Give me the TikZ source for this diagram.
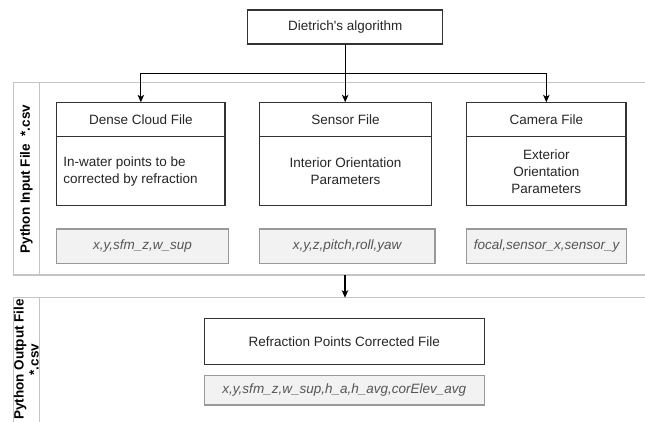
\documentclass[tikz,border=0pt]{standalone}
\usepackage{fontspec}
\setmainfont{Liberation Sans}[Ligatures=TeXOff]
\usetikzlibrary{arrows.meta}
\definecolor{boxline}{HTML}{333333}
\definecolor{laneline}{HTML}{C4C4C4}
\definecolor{grayfill}{HTML}{F2F2F2}
\definecolor{grayline}{HTML}{999999}
\definecolor{graytext}{HTML}{555555}
\begin{document}
\begin{tikzpicture}[x=1pt,y=-1pt,
  every node/.style={font=\fontsize{13.5}{17}\selectfont, inner sep=0pt, outer sep=0pt},
  plainbox/.style={draw=boxline, line width=1.1pt, fill=white, align=center, text=black!85},
  filebox/.style={draw=boxline, line width=1.1pt, fill=white},
  attrbox/.style={draw=grayline, line width=1.1pt, fill=grayfill, text=graytext, font=\fontsize{13.5}{17}\selectfont\itshape},
  lane/.style={draw=laneline, line width=1.4pt},
  lanelabel/.style={rotate=90, font=\fontsize{13.5}{15}\selectfont\bfseries, align=center},
  conn/.style={line width=1.1pt, draw=black, -{Stealth[length=7.5pt,width=6.5pt,inset=2pt]}}
]
\clip (0,0) rectangle (645,422);
\fill[white] (0,0) rectangle (645,422);

% lanes
\draw[lane] (680,82.7) -- (13.3,82.7) -- (13.3,275) -- (680,275);
\draw[lane] (39.3,82.7) -- (39.3,275);
\draw[lane] (680,297.7) -- (13.3,297.7) -- (13.3,440);
\draw[lane] (39.3,297.7) -- (39.3,440);
\coordinate (lane1bot) at (345,275);
\coordinate (lane2top) at (345,297.7);
\node[lanelabel] (l1) at (26.3,179) {Python Input File \ *.csv};
\node[lanelabel] (l2) at (26.3,359.5) {Python Output File\\*.csv};

% top box
\node[plainbox, minimum width=195pt, minimum height=34pt] (dietrich) at (345.2,27) {Dietrich's algorithm};

% file boxes
\node[filebox, minimum width=168.3pt, minimum height=103.4pt] (dense) at (140.85,154) {};
\node[filebox, minimum width=172.4pt, minimum height=103.4pt] (sensor) at (345.5,154) {};
\node[filebox, minimum width=159.3pt, minimum height=103.4pt] (camera) at (546.35,154) {};
\draw[boxline, line width=1.1pt] (56.7,136.7) -- (225,136.7);
\draw[boxline, line width=1.1pt] (259.3,136.7) -- (431.7,136.7);
\draw[boxline, line width=1.1pt] (466.7,136.7) -- (626,136.7);

\node[text=black!85] (denseh) at (140.85,119.5) {Dense Cloud File};
\node[text=black!85] (sensorh) at (345.5,119.5) {Sensor File};
\node[text=black!85] (camerah) at (546.35,119.5) {Camera File};

\node[text=black!85, align=left, anchor=west] (denseb) at (63.3,171.2) {In-water points to be\\corrected by refraction};
\node[text=black!85, align=center] (sensorb) at (345.5,171.2) {Interior Orientation\\Parameters};
\node[text=black!85, align=center] (camerab) at (546.35,171.2) {Exterior\\Orientation\\Parameters};

% attribute boxes
\node[attrbox, minimum width=171.6pt, minimum height=34.3pt] (densea) at (142.5,246.15) {x,y,sfm\_z,w\_sup};
\node[attrbox, minimum width=175.7pt, minimum height=34.3pt] (sensora) at (347.15,246.15) {x,y,z,pitch,roll,yaw};
\node[attrbox, minimum width=160pt, minimum height=34.3pt] (cameraa) at (546.7,246.15) {focal,sensor\_x,sensor\_y};

% output
\node[plainbox, minimum width=280pt, minimum height=46pt] (refr) at (344.3,341.3) {Refraction Points Corrected File};
\node[attrbox, minimum width=280pt, minimum height=29.3pt] (refra) at (344.3,390.35) {x,y,sfm\_z,w\_sup,h\_a,h\_avg,corElev\_avg};

% connectors
\coordinate (split) at (345.2,73.3);
\draw[line width=1.1pt] (dietrich.south) -- (split);
\draw[conn] (split) -| (dense.north);
\draw[conn] (split) -- (sensor.north -| split);
\draw[conn] (split) -| (camera.north);
\draw[conn] (lane1bot) -- (lane2top);
\end{tikzpicture}
\end{document}
